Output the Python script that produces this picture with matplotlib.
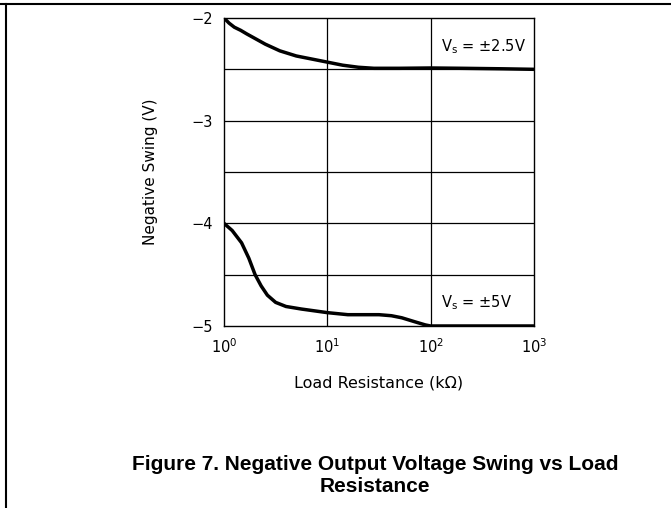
import matplotlib.pyplot as plt
from matplotlib.lines import Line2D

# Load resistance (kOhm) and negative swing (V)
r_25 = [1.0, 1.12, 1.26, 1.45, 1.66, 2.0, 2.51, 3.47, 5.01, 7.08, 10, 14.1, 20,
        28.2, 50, 100, 200, 500, 1000]
v_25 = [-2.0, -2.05, -2.09, -2.12, -2.155, -2.20, -2.255, -2.32, -2.37, -2.40,
        -2.43, -2.46, -2.48, -2.49, -2.49, -2.487, -2.49, -2.495, -2.5]

r_5 = [1.0, 1.2, 1.48, 1.74, 2.0, 2.29, 2.63, 3.16, 3.98, 5.62, 10, 15.8, 31.6,
       41.7, 52.5, 70.8, 89.1, 100, 1000]
v_5 = [-4.0, -4.07, -4.19, -4.34, -4.50, -4.61, -4.70, -4.77, -4.81, -4.835,
       -4.87, -4.89, -4.89, -4.90, -4.92, -4.96, -4.99, -5.0, -5.0]

y_ticks = [-2, -3, -4, -5]
y_grid = [-2.5, -3, -3.5, -4, -4.5]
x_grid = [10, 100]


def main():
    fig = plt.figure(figsize=(6.71, 5.08), dpi=100)
    ax = fig.add_axes([0.3338, 0.3583, 0.462, 0.6063])

    for y in y_grid:
        ax.axhline(y, color="black", lw=0.9, zorder=1)
    for x in x_grid:
        ax.axvline(x, color="black", lw=0.9, zorder=1)

    for r, v in [(r_25, v_25), (r_5, v_5)]:
        ax.plot(r, v, color="black", lw=2.5, zorder=3,
                solid_joinstyle="round", solid_capstyle="butt")

    ax.set_xscale("log")
    ax.set_xlim(1, 1000)
    ax.set_ylim(-5, -2)
    ax.set_yticks(y_ticks)
    ax.set_yticklabels(["\u22122", "\u22123", "\u22124", "\u22125"])
    ax.set_xticks([1, 10, 100, 1000])
    ax.set_xticklabels([r"$10^0$", r"$10^1$", r"$10^2$", r"$10^3$"])
    ax.minorticks_off()
    ax.tick_params(length=0, labelsize=10.5, pad=8)
    for s in ax.spines.values():
        s.set_linewidth(1.0)

    ax.text(125, -2.28, r"V$_\mathregular{s}$ = ±2.5V", fontsize=10.5, ha="left", va="center")
    ax.text(125, -4.77, r"V$_\mathregular{s}$ = ±5V", fontsize=10.5, ha="left", va="center")

    ax.set_ylabel("Negative Swing (V)", fontsize=11, labelpad=24)
    ax.set_xlabel("Load Resistance (k\u03a9)", fontsize=11.5, labelpad=14)

    fig.text(0.559, 0.064, "Figure 7. Negative Output Voltage Swing vs Load\nResistance",
             ha="center", va="center", fontsize=15, fontweight="bold",
             family="Liberation Sans", linespacing=1.2)

    # page frame lines (top and left)
    fig.add_artist(Line2D([0, 1], [0.992, 0.992], color="black", lw=1.5,
                          transform=fig.transFigure))
    fig.add_artist(Line2D([0.009, 0.009], [0, 0.992], color="black", lw=1.5,
                          transform=fig.transFigure))

    fig.savefig("out.png", dpi=100)


if __name__ == "__main__":
    main()
